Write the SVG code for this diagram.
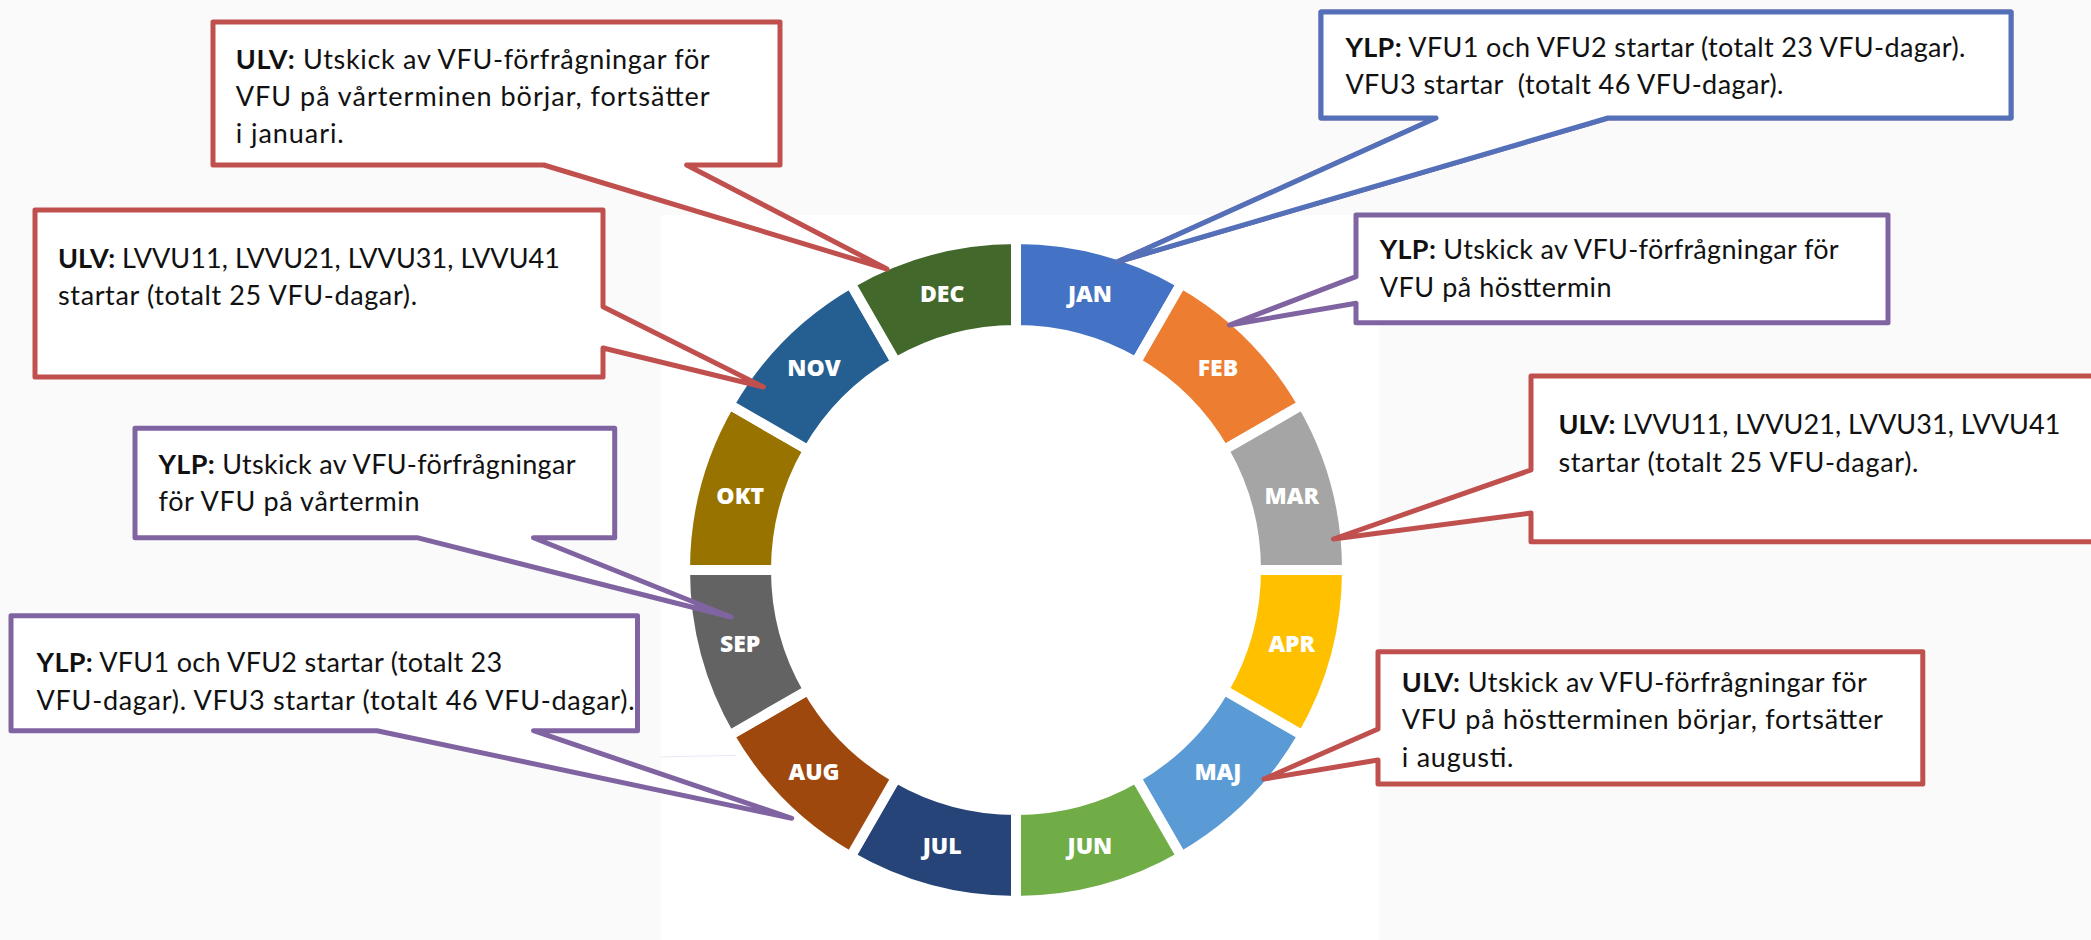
<svg xmlns="http://www.w3.org/2000/svg" width="2091" height="940" viewBox="0 0 2091 940">
<style>
.seg{stroke:#ffffff;stroke-width:10;stroke-linejoin:miter}
.mon{font-family:"Open Sans","DejaVu Sans",sans-serif;font-weight:800;font-size:23px;fill:#ffffff;text-anchor:middle}
.box{fill:#ffffff;stroke-width:5;stroke-linejoin:round}
.red{stroke:#C0504D}
.pur{stroke:#8064A2}
.blu{stroke:#5470B8}
.txt{font-family:Lato,"Liberation Sans",sans-serif;font-size:27px;fill:#111111}
.b{font-weight:bold}
</style>
<rect x="0" y="0" width="2091" height="940" fill="#fafafa"/>
<rect x="661" y="215" width="718" height="725" fill="#ffffff"/>
<line x1="661" y1="757" x2="748" y2="755" stroke="#ece8f4" stroke-width="1"/>

<g id="ring">
  <g id="jan"><path class="seg" fill="#4472C4" d="M1016,239 A331,331 0 0 1 1181.5,283.35 L1136,362.15 A240,240 0 0 0 1016,330 Z"/><text class="mon" x="1089.9" y="302.4">JAN</text></g>
  <g id="feb"><path class="seg" fill="#ED7D31" d="M1181.5,283.35 A331,331 0 0 1 1302.65,404.5 L1223.85,450 A240,240 0 0 0 1136,362.15 Z"/><text class="mon" x="1217.9" y="376.3">FEB</text></g>
  <g id="mar"><path class="seg" fill="#A5A5A5" d="M1302.65,404.5 A331,331 0 0 1 1347,570 L1256,570 A240,240 0 0 0 1223.85,450 Z"/><text class="mon" x="1291.8" y="504.3">MAR</text></g>
  <g id="apr"><path class="seg" fill="#FFC000" d="M1347,570 A331,331 0 0 1 1302.65,735.5 L1223.85,690 A240,240 0 0 0 1256,570 Z"/><text class="mon" x="1291.8" y="652.1">APR</text></g>
  <g id="maj"><path class="seg" fill="#5B9BD5" d="M1302.65,735.5 A331,331 0 0 1 1181.5,856.65 L1136,777.85 A240,240 0 0 0 1223.85,690 Z"/><text class="mon" x="1217.9" y="780.1">MAJ</text></g>
  <g id="jun"><path class="seg" fill="#70AD47" d="M1181.5,856.65 A331,331 0 0 1 1016,901 L1016,810 A240,240 0 0 0 1136,777.85 Z"/><text class="mon" x="1089.9" y="854">JUN</text></g>
  <g id="jul"><path class="seg" fill="#264478" d="M1016,901 A331,331 0 0 1 850.5,856.65 L896,777.85 A240,240 0 0 0 1016,810 Z"/><text class="mon" x="942.1" y="854">JUL</text></g>
  <g id="aug"><path class="seg" fill="#9E480E" d="M850.5,856.65 A331,331 0 0 1 729.35,735.5 L808.15,690 A240,240 0 0 0 896,777.85 Z"/><text class="mon" x="814.1" y="780.1">AUG</text></g>
  <g id="sep"><path class="seg" fill="#636363" d="M729.35,735.5 A331,331 0 0 1 685,570 L776,570 A240,240 0 0 0 808.15,690 Z"/><text class="mon" x="740.2" y="652.1">SEP</text></g>
  <g id="okt"><path class="seg" fill="#997300" d="M685,570 A331,331 0 0 1 729.35,404.5 L808.15,450 A240,240 0 0 0 776,570 Z"/><text class="mon" x="740.2" y="504.3">OKT</text></g>
  <g id="nov"><path class="seg" fill="#255E91" d="M729.35,404.5 A331,331 0 0 1 850.5,283.35 L896,362.15 A240,240 0 0 0 808.15,450 Z"/><text class="mon" x="814.1" y="376.3">NOV</text></g>
  <g id="dec"><path class="seg" fill="#43682B" d="M850.5,283.35 A331,331 0 0 1 1016,239 L1016,330 A240,240 0 0 0 896,362.15 Z"/><text class="mon" x="942.1" y="302.4">DEC</text></g>
</g>

<g id="connectors">
  <!-- callout pointers are part of each callout outline below -->
</g>

<g id="callout-ulv-dec">
  <path class="box red" d="M213,22 H780 V165 H686.6 L887,269 L543.8,165 H213 Z"/>
  <text class="txt" x="235.7" y="69" textLength="474" lengthAdjust="spacing"><tspan class="b">ULV:</tspan> Utskick av VFU-förfrågningar för</text>
  <text class="txt" x="235.7" y="106" textLength="474" lengthAdjust="spacing">VFU på vårterminen börjar, fortsätter</text>
  <text class="txt" x="235.7" y="143" textLength="108" lengthAdjust="spacing">i januari.</text>
</g>

<g id="callout-ulv-nov">
  <path class="box red" d="M35,210 H603 V306.7 L763.5,387 L603,348 V377 H35 Z"/>
  <text class="txt" x="58" y="268" textLength="502" lengthAdjust="spacing"><tspan class="b">ULV:</tspan> LVVU11, LVVU21, LVVU31, LVVU41</text>
  <text class="txt" x="58" y="305" textLength="359" lengthAdjust="spacing">startar (totalt 25 VFU-dagar).</text>
</g>

<g id="callout-ylp-jan">
  <path class="box pur" stroke-width="7" d="M1321,12 H2011 V118 H1608 L1117,262 L1436,118 H1321 Z"/>
  <path class="box blu" d="M1321,12 H2011 V118 H1608 L1117,262 L1436,118 H1321 Z"/>
  <text class="txt" x="1345.4" y="57" textLength="620" lengthAdjust="spacing"><tspan class="b">YLP:</tspan> VFU1 och VFU2 startar (totalt 23 VFU-dagar).</text>
  <text class="txt" x="1345.4" y="94" textLength="438" lengthAdjust="spacing" xml:space="preserve" style="white-space:pre">VFU3 startar  (totalt 46 VFU-dagar).</text>
</g>

<g id="callout-ylp-feb">
  <path class="box pur" d="M1356,215 H1888 V322.7 H1356 V303.3 L1229.5,325 L1356,276.7 Z"/>
  <text class="txt" x="1379.7" y="259" textLength="459" lengthAdjust="spacing"><tspan class="b">YLP:</tspan> Utskick av VFU-förfrågningar för</text>
  <text class="txt" x="1379.7" y="296.5" textLength="232" lengthAdjust="spacing">VFU på hösttermin</text>
</g>

<g id="callout-ulv-mar">
  <path class="box red" d="M1531,376 H2110 V541.7 H1531 V513 L1333.5,539 L1531,470 Z"/>
  <text class="txt" x="1558.4" y="434" textLength="502" lengthAdjust="spacing"><tspan class="b">ULV:</tspan> LVVU11, LVVU21, LVVU31, LVVU41</text>
  <text class="txt" x="1558.4" y="471.5" textLength="360" lengthAdjust="spacing">startar (totalt 25 VFU-dagar).</text>
</g>

<g id="callout-ulv-maj">
  <path class="box red" d="M1378,651.7 H1922.8 V784 H1378 V760 L1264,779 L1378,729 Z"/>
  <text class="txt" x="1401.8" y="691.5" textLength="465" lengthAdjust="spacing"><tspan class="b">ULV:</tspan> Utskick av VFU-förfrågningar för</text>
  <text class="txt" x="1401.8" y="729" textLength="481" lengthAdjust="spacing">VFU på höstterminen börjar, fortsätter</text>
  <text class="txt" x="1401.8" y="766.5" textLength="111.6" lengthAdjust="spacing">i augusti.</text>
</g>

<g id="callout-ylp-sep">
  <path class="box pur" d="M135,428.3 H614.7 V537.7 H533.5 L731,617 L417,537.7 H135 Z"/>
  <text class="txt" x="158.5" y="474" textLength="417" lengthAdjust="spacing"><tspan class="b">YLP:</tspan> Utskick av VFU-förfrågningar</text>
  <text class="txt" x="158.5" y="511" textLength="261" lengthAdjust="spacing">för VFU på vårtermin</text>
</g>

<g id="callout-ylp-aug">
  <path class="box pur" d="M11,615.7 H637.5 V730.7 H533.5 L791.7,818.3 L377,730.7 H11 Z"/>
  <text class="txt" x="36.6" y="672.3" textLength="465.6" lengthAdjust="spacing"><tspan class="b">YLP:</tspan> VFU1 och VFU2 startar (totalt 23</text>
  <text class="txt" x="36.6" y="710" textLength="598" lengthAdjust="spacing">VFU-dagar). VFU3 startar (totalt 46 VFU-dagar).</text>
</g>
</svg>
